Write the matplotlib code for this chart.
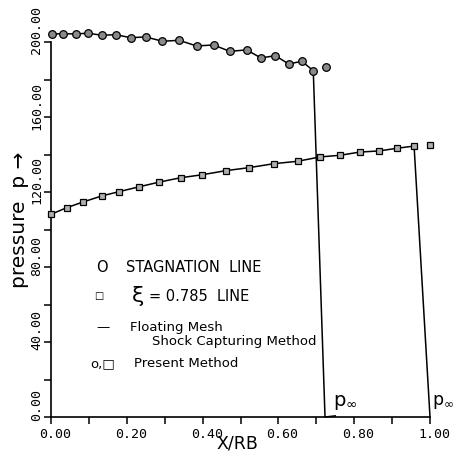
import matplotlib.pyplot as plt
import matplotlib.transforms as mtransforms

# stagnation line (circles), present method
stag_x = [0.002, 0.032, 0.066, 0.097, 0.134, 0.171, 0.210, 0.250, 0.294, 0.338,
          0.384, 0.429, 0.472, 0.516, 0.554, 0.592, 0.627, 0.662, 0.692, 0.726]
stag_p = [204.3, 204.4, 204.3, 204.7, 203.6, 203.9, 202.3, 202.7, 200.4, 200.9,
          197.9, 198.4, 195.0, 195.8, 191.5, 192.7, 188.3, 189.7, 184.7, 186.5]

# xi = 0.785 line (squares), present method
xi_x = [0.000, 0.041, 0.085, 0.134, 0.180, 0.233, 0.286, 0.342, 0.399, 0.462,
        0.523, 0.588, 0.651, 0.710, 0.763, 0.815, 0.866, 0.912, 0.958, 1.000]
xi_p = [108.1, 111.6, 114.7, 117.9, 120.2, 122.8, 125.3, 127.6, 129.2, 131.4,
        133.0, 135.1, 136.4, 138.7, 139.6, 141.3, 141.9, 143.3, 144.5, 145.1]

# floating mesh shock capturing: same curve, then drop to p_inf at the shock
shock_x_stag = 0.723
shock_x_xi = 1.000
p_inf = 0.0

x_ticks = [0.0, 0.2, 0.4, 0.6, 0.8, 1.0]
x_labels = ['0.00', '0.20', '0.40', '0.60', '0.80', '1.00']
y_ticks = [0, 40, 80, 120, 160, 200]
y_labels = ['0.00', '40.00', '80.00', '120.00', '160.00', '200.00']

fig = plt.figure(figsize=(4.53, 4.60), dpi=100)
ax = fig.add_axes([51 / 453, 1 - 418 / 460, 379 / 453, 375 / 460])

# solid lines (floating mesh method)
ax.plot(stag_x[:-1] + [shock_x_stag, 0.75], stag_p[:-1] + [p_inf, 0.6],
        color='black', lw=1.1, clip_on=False, zorder=2)
ax.plot(xi_x[:-1] + [shock_x_xi], xi_p[:-1] + [p_inf],
        color='black', lw=1.1, clip_on=False, zorder=2)

# markers (present method)
ax.plot(stag_x, stag_p, ls='none', marker='o', ms=5.5, mfc='#8a8a8a',
        mec='black', mew=0.9, clip_on=False, zorder=3)
ax.plot(xi_x, xi_p, ls='none', marker='s', ms=4.6, mfc='#b0b0b0',
        mec='black', mew=0.9, clip_on=False, zorder=3)

ax.set_xlim(0, 1)
ax.set_ylim(0, 200)
for s in ['top', 'right']:
    ax.spines[s].set_visible(False)
for s in ['left', 'bottom']:
    ax.spines[s].set_linewidth(1.2)

ax.set_xticks(x_ticks)
ax.set_xticklabels(x_labels, family='DejaVu Sans Mono', fontsize=9.5)
ax.set_xticks([0.1, 0.3, 0.5, 0.7, 0.9], minor=True)
ax.set_yticks(y_ticks)
ax.set_yticklabels(y_labels, family='DejaVu Sans Mono', fontsize=9.5,
                   rotation=90, va='center')
ax.set_yticks([20, 60, 100, 140, 180], minor=True)
ax.tick_params(which='both', direction='out', length=5, width=1.1)
ax.tick_params(axis='x', pad=2)
ax.tick_params(axis='y', pad=0.5)

dx = mtransforms.ScaledTranslation(3 / 72, 0, fig.dpi_scale_trans)
for lab in ax.get_xticklabels():
    lab.set_transform(lab.get_transform() + dx)
dy = mtransforms.ScaledTranslation(0, 9 / 72, fig.dpi_scale_trans)
for lab in ax.get_yticklabels():
    lab.set_transform(lab.get_transform() + dy)

ax.text(0.491, -0.069, 'X/RB', transform=ax.transAxes, ha='center',
        va='center', fontsize=12.5)
ax.text(-0.082, 0.528, 'pressure  p \u2192', transform=ax.transAxes,
        rotation=90, ha='center', va='center', fontsize=14.5)

# key
kw = dict(fontsize=9.5, va='center')
up = dict(fontsize=10.5, va='center')
ax.text(0.135, 80, 'O', ha='center', **up)
ax.text(0.198, 80, 'STAGNATION  LINE', **up)
ax.text(0.127, 65, '\u25a1', ha='center', fontsize=7, va='center')
ax.text(0.23, 65, '\u03be', ha='center', fontsize=16, va='center')
ax.text(0.258, 65, '= 0.785  LINE', **up)
ax.text(0.138, 48.5, '\u2014', ha='center', **kw)
ax.text(0.208, 48.5, 'Floating Mesh', **kw)
ax.text(0.267, 41, 'Shock Capturing Method', **kw)
ax.text(0.137, 29, 'o,\u25a1', ha='center', **kw)
ax.text(0.219, 29, 'Present Method', **kw)

ax.text(0.744, 8.5, '$\\mathrm{p}_\\infty$', fontsize=14, va='center')
ax.text(1.005, 8.5, '$\\mathrm{p}_\\infty$', fontsize=12.5, va='center',
        clip_on=False)

fig.savefig('out.png', dpi=100)
